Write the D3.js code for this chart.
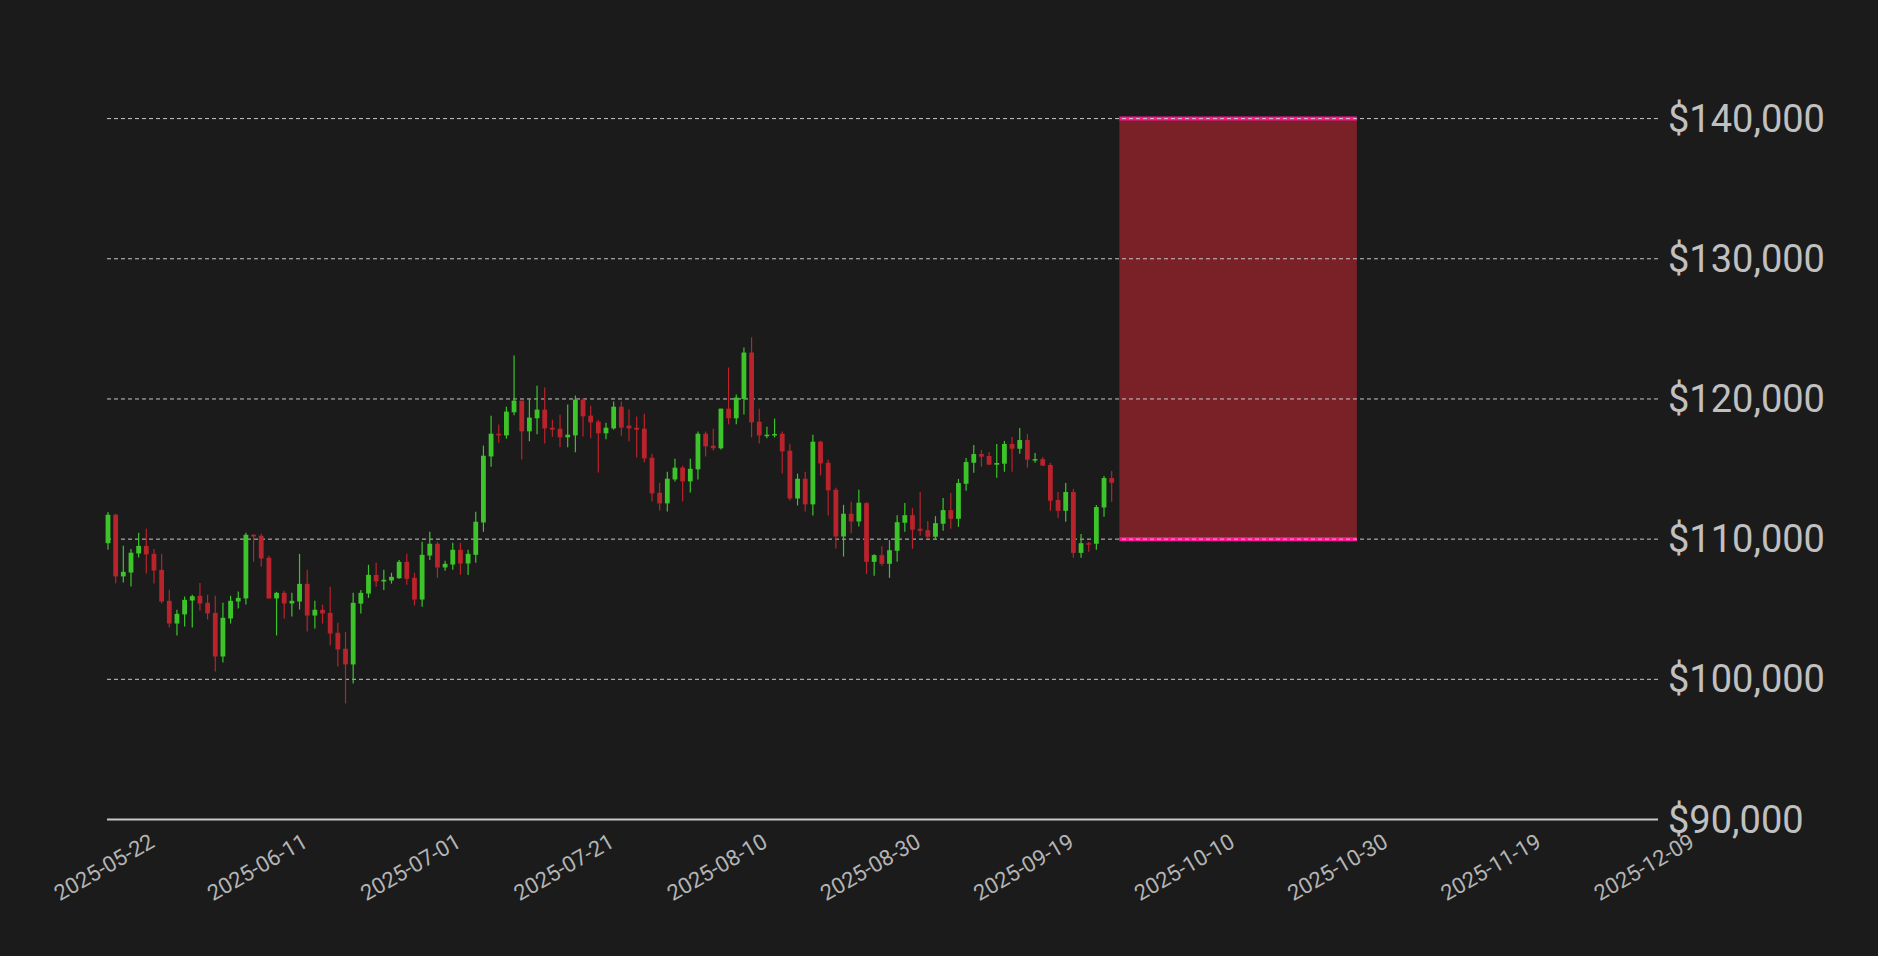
<!DOCTYPE html>
<html>
<head>
<meta charset="utf-8">
<script src="https://cdn.jsdelivr.net/npm/d3@7"></script>
<style>
  body { margin: 0; background: #1b1b1b; }
  svg { display: block; }
</style>
</head>
<body>
<svg id="chart"></svg>
<script>
// daily candles, May 22 – Sep 30 2025 (values in thousand USD)
const startDate = "2025-05-22";
const opens = [109.71,111.74,107.34,107.62,108.98,109.52,108.95,107.81,105.6,103.98,104.63,105.62,105.96,105.46,104.74,101.63,104.34,105.55,105.77,110.31,110.24,108.67,105.77,106.17,105.41,105.55,106.81,104.55,104.96,104.74,103.32,102.18,101.06,
  105.40,106.12,107.45,106.98,107.05,107.21,108.38,107.24,105.69,108.83,109.67,107.98,108.19,109.24,108.26,108.88,111.19,115.90,117.52,117.40,119.05,119.88,117.69,118.62,119.24,117.95,117.88,117.26,117.40,119.95,118.81,118.38,117.55,
  117.90,119.45,118.10,117.95,117.88,115.81,113.31,112.55,114.26,115.10,114.12,114.98,117.52,116.67,116.48,119.31,118.62,120.0,123.31,118.38,117.40,117.40,117.52,116.31,112.90,114.31,112.48,116.95,115.45,113.52,110.19,111.81,111.26,
  112.57,108.38,108.86,108.24,109.17,111.17,111.71,110.74,110.64,110.17,111.10,112.07,111.45,113.95,115.45,116.07,115.93,115.31,115.38,116.79,116.45,117.07,115.67,115.71,115.29,112.79,112.02,113.36,109.02,109.71,109.67,112.26,114.36];
const highs = [111.93,111.81,109.52,109.29,110.45,110.74,109.29,108.95,106.39,104.96,105.91,106.03,106.88,106.03,105.96,105.46,105.96,106.26,110.45,110.36,110.38,108.81,106.24,106.31,106.17,108.95,107.81,105.60,105.32,106.60,104.03,103.39,106.17,
  106.38,108.17,108.31,107.81,107.60,108.52,108.95,107.60,109.81,110.52,109.81,108.45,109.74,109.74,109.24,111.95,116.67,118.81,118.17,119.45,123.1,119.88,120.0,120.95,120.81,118.52,118.88,119.6,120.24,120.07,119.52,118.52,118.31,
  119.81,119.81,119.24,118.74,118.95,116.10,114.02,114.81,115.74,115.24,115.74,117.67,117.67,117.88,119.31,122.24,120.31,123.67,124.4,119.31,118.02,118.60,117.67,116.81,114.67,114.81,117.45,117.02,115.67,113.67,112.45,112.67,113.52,
  112.64,108.93,109.50,109.93,111.71,112.57,112.21,113.36,111.29,111.64,112.93,113.29,114.29,115.79,116.71,116.36,116.21,116.79,117.0,117.29,117.93,117.50,116.14,115.86,115.43,113.36,114.0,113.57,110.36,109.79,112.43,114.50,114.86];
const lows = [109.24,106.86,106.91,106.62,108.69,107.55,106.84,105.41,103.70,103.13,103.77,103.70,104.91,104.27,100.56,101.20,103.98,105.05,105.34,108.39,108.05,105.77,103.13,104.34,104.48,104.98,103.41,103.63,103.98,102.41,100.92,98.28,99.70,
  104.69,105.81,106.60,106.38,106.83,107.17,106.74,105.26,105.17,108.52,107.24,107.74,107.81,107.45,107.45,108.31,110.52,115.17,116.88,117.17,118.83,115.69,116.98,117.48,116.83,117.31,116.55,116.55,116.19,117.33,117.19,114.76,117.12,
  117.81,117.38,116.98,115.83,115.48,112.69,112.05,111.98,114.12,112.69,113.33,114.26,115.90,116.33,116.40,118.19,118.19,118.90,117.26,116.83,117.19,117.26,114.69,112.76,112.40,111.98,111.69,114.55,111.69,109.33,108.76,110.40,110.90,
  107.52,107.38,108.10,107.24,108.38,110.52,109.31,110.24,110.02,110.02,110.60,110.74,110.88,113.45,114.74,115.17,115.31,114.38,114.81,114.81,116.10,115.10,115.45,115.24,112.02,111.52,111.24,108.67,108.67,109.10,109.24,111.60,112.67];
const closes = [111.74,107.34,107.67,109.03,109.52,108.91,107.76,105.55,103.98,104.67,105.67,105.93,105.41,104.70,101.63,104.39,105.6,105.81,110.31,110.19,108.62,105.77,106.17,105.41,105.6,106.81,104.55,104.96,104.70,103.27,102.13,101.06,105.46,
  106.17,107.45,106.98,107.10,107.31,108.38,107.17,105.69,108.88,109.67,107.98,108.24,109.24,108.26,108.95,111.24,115.95,117.52,117.40,119.10,119.88,117.69,118.67,119.24,117.90,117.81,117.26,117.45,119.95,118.76,118.33,117.55,117.95,
  119.45,117.95,117.90,117.81,115.76,113.26,112.55,114.31,115.10,114.12,115.02,117.52,116.62,116.48,119.31,118.62,120.10,123.31,118.33,117.40,117.45,117.50,116.26,112.90,114.31,112.48,116.95,115.40,113.48,110.19,111.81,111.26,112.60,
  108.38,108.86,108.24,109.21,111.21,111.71,110.67,110.60,110.17,111.14,112.07,111.45,114.0,115.50,116.07,115.88,115.31,115.43,116.79,116.45,117.07,115.67,115.71,115.24,112.74,112.02,113.36,109.02,109.71,109.67,112.29,114.36,114.02];

// highlighted target zone
const zoneDates = ["2025-10-01", "2025-11-01"];
const zonePrices = [110000, 140000];

const priceTicks = [90000, 100000, 110000, 120000, 130000, 140000];
const dateTicks = ["2025-05-22","2025-06-11","2025-07-01","2025-07-21","2025-08-10","2025-08-30","2025-09-19","2025-10-10","2025-10-30","2025-11-19","2025-12-09"];

const width = 1878, height = 956;
const svg = d3.select("#chart").attr("width", width).attr("height", height);
svg.append("rect").attr("width", width).attr("height", height).attr("fill", "#1b1b1b");

const parse = d3.isoParse;
const x = d3.scaleTime()
  .domain([parse("2025-05-22"), parse("2025-12-09")])
  .range([108, 1648]);
const y = d3.scaleLinear().domain([90000, 140000]).range([819.5, 118.6]);
const axisLeft = 107, axisRight = 1658;

const candles = opens.map((o, i) => ({
  date: d3.timeDay.offset(parse(startDate), i),
  o: o * 1000, h: highs[i] * 1000, l: lows[i] * 1000, c: closes[i] * 1000
}));

// zone fill
svg.append("rect")
  .attr("x", x(parse(zoneDates[0])))
  .attr("width", x(parse(zoneDates[1])) - x(parse(zoneDates[0])))
  .attr("y", y(zonePrices[1]))
  .attr("height", y(zonePrices[0]) - y(zonePrices[1]))
  .attr("fill", "#7a2027");

zonePrices.forEach((p) => {
  svg.append("line")
    .attr("x1", x(parse(zoneDates[0]))).attr("x2", x(parse(zoneDates[1])))
    .attr("y1", y(p)).attr("y2", y(p))
    .attr("stroke", "#ff1493").attr("stroke-width", 4);
});

// grid
svg.append("g")
  .selectAll("line")
  .data(priceTicks.slice(1))
  .join("line")
  .attr("x1", axisLeft).attr("x2", axisRight)
  .attr("y1", (d) => y(d)).attr("y2", (d) => y(d))
  .attr("stroke", "#c8c8c8").attr("stroke-width", 1)
  .attr("stroke-dasharray", "4,3");

// candles
const g = svg.append("g");
g.selectAll("line.wick")
  .data(candles)
  .join("line")
  .attr("class", "wick")
  .attr("x1", (d) => x(d.date)).attr("x2", (d) => x(d.date))
  .attr("y1", (d) => y(d.h)).attr("y2", (d) => y(d.l))
  .attr("stroke", (d) => (d.c >= d.o ? "#3cc42a" : "#b8232c"))
  .attr("stroke-width", 1.2);
g.selectAll("rect.body")
  .data(candles)
  .join("rect")
  .attr("class", "body")
  .attr("x", (d) => x(d.date) - 2.4)
  .attr("width", 4.8)
  .attr("y", (d) => y(Math.max(d.o, d.c)))
  .attr("height", (d) => Math.max(1.5, Math.abs(y(d.o) - y(d.c))))
  .attr("fill", (d) => (d.c >= d.o ? "#3cc42a" : "#b8232c"));

// x axis line
svg.append("line")
  .attr("x1", axisLeft).attr("x2", axisRight)
  .attr("y1", 819.5).attr("y2", 819.5)
  .attr("stroke", "#c8c8c8").attr("stroke-width", 2);

// y labels
svg.append("g")
  .selectAll("text")
  .data(priceTicks)
  .join("text")
  .attr("x", 1668)
  .attr("y", (d) => y(d) + 13)
  .attr("fill", "#c0c0c0")
  .attr("font-family", "Roboto, 'Noto Sans', sans-serif")
  .attr("font-size", "38px")
  .text((d) => "$" + d3.format(",")(d));

// x labels
svg.append("g")
  .selectAll("text")
  .data(dateTicks)
  .join("text")
  .attr("transform", (d) => `translate(${x(parse(d)) + 48},${846}) rotate(-30)`)
  .attr("text-anchor", "end")
  .attr("fill", "#b4b4b4")
  .attr("font-family", "Roboto, 'Noto Sans', sans-serif")
  .attr("font-size", "22px")
  .text((d) => d);
</script>
</body>
</html>
